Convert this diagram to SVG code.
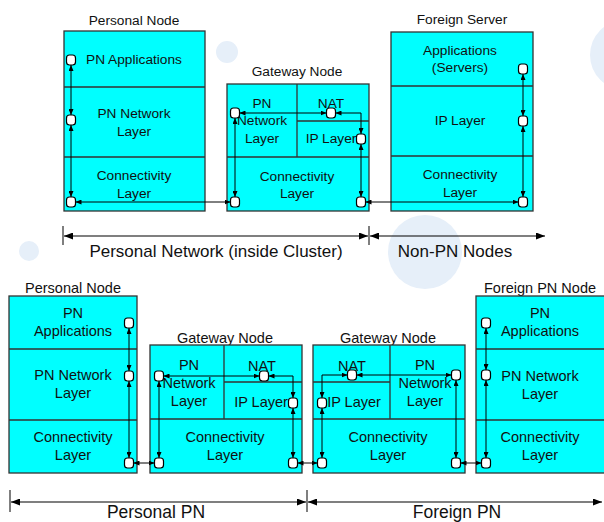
<svg xmlns="http://www.w3.org/2000/svg" width="604" height="522" viewBox="0 0 604 522">
<style>
.box{fill:#00ffff;stroke:#333;stroke-width:1.3}
.div{stroke:#333;stroke-width:1.3;fill:none}
.nd{fill:#fff;stroke:#000;stroke-width:1.2}
.c{stroke:#000;stroke-width:1;fill:none;marker-start:url(#a);marker-end:url(#a)}
.dim{stroke:#000;stroke-width:1.2;fill:none;marker-start:url(#b);marker-end:url(#b)}
.tk{stroke:#555;stroke-width:1.5}
text{font-family:"Liberation Sans",Arial,sans-serif;fill:#111;text-anchor:middle}
.t1{font-size:13.7px}
.t2{font-size:14.5px}
.bg{fill:#e6eff9}
</style>
<defs>
<marker id="a" markerUnits="userSpaceOnUse" markerWidth="6" markerHeight="5" refX="6" refY="2.5" orient="auto-start-reverse"><path d="M0,0 L6,2.5 L0,5 z" fill="#000"/></marker>
<marker id="b" markerUnits="userSpaceOnUse" markerWidth="9" markerHeight="7" refX="9" refY="3.5" orient="auto-start-reverse"><path d="M0,0 L9,3.5 L0,7 z" fill="#000"/></marker>
</defs>
<rect width="604" height="522" fill="#fff"/>
<g id="background">
<circle class="bg" cx="227" cy="52" r="11"/>
<circle class="bg" cx="29" cy="251" r="10"/>
<circle class="bg" cx="425" cy="252" r="37"/>
<circle class="bg" cx="625" cy="55" r="35"/>
</g>

<g id="top-personal-node">
<text class="t1" x="134" y="25">Personal Node</text>
<rect class="box" x="64" y="31" width="141" height="180"/>
<path class="div" d="M64,87H205M64,157H205"/>
<text class="t1" x="134" y="64">PN Applications</text>
<text class="t1" x="134" y="118">PN Network</text>
<text class="t1" x="134" y="136">Layer</text>
<text class="t1" x="134" y="180">Connectivity</text>
<text class="t1" x="134" y="198">Layer</text>
<rect class="nd" x="66.5" y="55" width="9" height="10" rx="3"/>
<rect class="nd" x="66.5" y="115" width="9" height="10" rx="3"/>
<rect class="nd" x="66.5" y="197" width="9" height="10" rx="3"/>
</g>

<g id="top-gateway-node">
<text class="t1" x="297" y="76">Gateway Node</text>
<rect class="box" x="227" y="84" width="142" height="127"/>
<path class="div" d="M297,84V157M227,157H369M297,121H369"/>
<text class="t1" x="262" y="108">PN</text>
<text class="t1" x="262" y="125">Network</text>
<text class="t1" x="262" y="143">Layer</text>
<text class="t1" x="331" y="108">NAT</text>
<text class="t1" x="331" y="143">IP Layer</text>
<text class="t1" x="297" y="181">Connectivity</text>
<text class="t1" x="297" y="198">Layer</text>
<rect class="nd" x="230.5" y="108" width="9" height="10" rx="3"/>
<rect class="nd" x="326.5" y="108" width="9" height="10" rx="3"/>
<rect class="nd" x="356.5" y="134" width="9" height="10" rx="3"/>
<rect class="nd" x="230.5" y="197" width="9" height="10" rx="3"/>
<rect class="nd" x="356.5" y="197" width="9" height="10" rx="3"/>
</g>

<g id="top-foreign-server">
<text class="t1" x="462" y="24">Foreign Server</text>
<rect class="box" x="391" y="32" width="142" height="179"/>
<path class="div" d="M391,86H533M391,156H533"/>
<text class="t1" x="460" y="55">Applications</text>
<text class="t1" x="460" y="72">(Servers)</text>
<text class="t1" x="460" y="125">IP Layer</text>
<text class="t1" x="460" y="179">Connectivity</text>
<text class="t1" x="460" y="197">Layer</text>
<rect class="nd" x="518.5" y="64" width="9" height="10" rx="3"/>
<rect class="nd" x="518.5" y="116" width="9" height="10" rx="3"/>
<rect class="nd" x="518.5" y="197" width="9" height="10" rx="3"/>
</g>

<g id="bottom-personal-node">
<text class="t2" x="73" y="293">Personal Node</text>
<rect class="box" x="9" y="296" width="128" height="177"/>
<path class="div" d="M9,349H137M9,420H137"/>
<text class="t2" x="73" y="318">PN</text>
<text class="t2" x="73" y="336">Applications</text>
<text class="t2" x="73" y="380">PN Network</text>
<text class="t2" x="73" y="398">Layer</text>
<text class="t2" x="73" y="442">Connectivity</text>
<text class="t2" x="73" y="460">Layer</text>
<rect class="nd" x="124.5" y="318" width="9" height="10" rx="3"/>
<rect class="nd" x="124.5" y="371" width="9" height="10" rx="3"/>
<rect class="nd" x="124.5" y="458" width="9" height="10" rx="3"/>
</g>

<g id="bottom-gateway-node-left">
<text class="t2" x="225" y="343">Gateway Node</text>
<rect class="box" x="150" y="345" width="152" height="128"/>
<path class="div" d="M224,345V419M150,419H302M224,382H302"/>
<text class="t2" x="189" y="370">PN</text>
<text class="t2" x="189" y="388">Network</text>
<text class="t2" x="189" y="406">Layer</text>
<text class="t2" x="262" y="371">NAT</text>
<text class="t2" x="261" y="407">IP Layer</text>
<text class="t2" x="225" y="442">Connectivity</text>
<text class="t2" x="225" y="460">Layer</text>
<rect class="nd" x="154.5" y="371" width="9" height="10" rx="3"/>
<rect class="nd" x="259.5" y="371" width="9" height="10" rx="3"/>
<rect class="nd" x="288.5" y="398" width="9" height="10" rx="3"/>
<rect class="nd" x="154.5" y="458" width="9" height="10" rx="3"/>
<rect class="nd" x="288.5" y="458" width="9" height="10" rx="3"/>
</g>

<g id="bottom-gateway-node-right">
<text class="t2" x="388" y="343">Gateway Node</text>
<rect class="box" x="313" y="345" width="152" height="128"/>
<path class="div" d="M390,345V419M313,419H465M313,382H390"/>
<text class="t2" x="352" y="371">NAT</text>
<text class="t2" x="354" y="407">IP Layer</text>
<text class="t2" x="425" y="370">PN</text>
<text class="t2" x="425" y="388">Network</text>
<text class="t2" x="425" y="406">Layer</text>
<text class="t2" x="388" y="442">Connectivity</text>
<text class="t2" x="388" y="460">Layer</text>
<rect class="nd" x="347.5" y="370" width="9" height="10" rx="3"/>
<rect class="nd" x="451.5" y="370" width="9" height="10" rx="3"/>
<rect class="nd" x="317.5" y="398" width="9" height="10" rx="3"/>
<rect class="nd" x="317.5" y="458" width="9" height="10" rx="3"/>
<rect class="nd" x="451.5" y="458" width="9" height="10" rx="3"/>
</g>

<g id="bottom-foreign-pn-node">
<text class="t2" x="540" y="293">Foreign PN Node</text>
<rect class="box" x="476" y="296" width="130" height="177"/>
<path class="div" d="M476,349H606M476,420H606"/>
<text class="t2" x="540" y="318">PN</text>
<text class="t2" x="540" y="336">Applications</text>
<text class="t2" x="540" y="381">PN Network</text>
<text class="t2" x="540" y="399">Layer</text>
<text class="t2" x="540" y="442">Connectivity</text>
<text class="t2" x="540" y="460">Layer</text>
<rect class="nd" x="481.5" y="318" width="9" height="10" rx="3"/>
<rect class="nd" x="481.5" y="370" width="9" height="10" rx="3"/>
<rect class="nd" x="481.5" y="458" width="9" height="10" rx="3"/>
</g>

<g id="connectors">
<path class="c" d="M71,65V115"/>
<path class="c" d="M71,125V197"/>
<path class="c" d="M75.5,202H230.5"/>
<path class="c" d="M239.5,113H326.5"/>
<path class="c" d="M335.5,113H361V134"/>
<path class="c" d="M235,118V197"/>
<path class="c" d="M361,144V197"/>
<path class="c" d="M365.5,202H518.5"/>
<path class="c" d="M523,74V116"/>
<path class="c" d="M523,126V197"/>

<path class="c" d="M129,328V371"/>
<path class="c" d="M129,381V458"/>
<path class="c" d="M133.5,463H154.5"/>
<path class="c" d="M163.5,376H259.5"/>
<path class="c" d="M268.5,376H293V398"/>
<path class="c" d="M159,381V458"/>
<path class="c" d="M293,408V458"/>
<path class="c" d="M297.5,463H317.5"/>
<path class="c" d="M356.5,375H451.5"/>
<path class="c" d="M347.5,375H322V398"/>
<path class="c" d="M322,408V458"/>
<path class="c" d="M456,380V458"/>
<path class="c" d="M460.5,463H481.5"/>
<path class="c" d="M486,328V370"/>
<path class="c" d="M486,380V458"/>
</g>

<g id="dimensions">
<line class="tk" x1="63" y1="226" x2="63" y2="245"/>
<line class="tk" x1="369" y1="226" x2="369" y2="245"/>
<path class="dim" d="M64,236H368"/>
<path class="dim" d="M370,236H545"/>
<text x="216" y="257" style="font-size:17px">Personal Network (inside Cluster)</text>
<text x="455" y="257" style="font-size:17px">Non-PN Nodes</text>
<line class="tk" x1="10" y1="490" x2="10" y2="512"/>
<line class="tk" x1="307" y1="490" x2="307" y2="512"/>
<path class="dim" d="M11,502H306"/>
<path class="dim" d="M308,502H602"/>
<text x="156" y="518" style="font-size:17.5px">Personal PN</text>
<text x="457" y="518" style="font-size:17.5px">Foreign PN</text>
</g>
</svg>
